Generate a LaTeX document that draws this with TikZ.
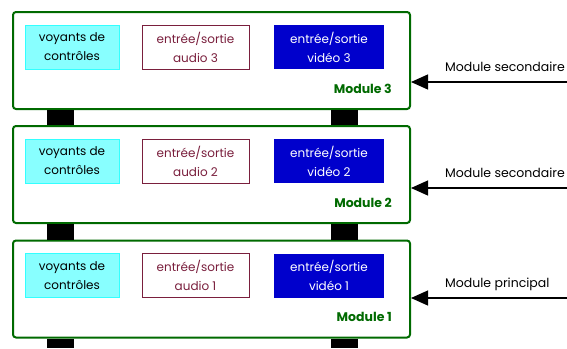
\documentclass[tikz,border=0pt]{standalone}
\usepackage{fontspec}
\setmainfont{Poppins}
\usepackage{tikz}
\usetikzlibrary{arrows.meta,positioning,calc}

\definecolor{modgreen}{HTML}{006A00}
\definecolor{lightcyan}{HTML}{88FFFF}
\definecolor{cyanline}{HTML}{33FFFF}
\definecolor{audiored}{HTML}{7A1F3D}
\definecolor{videoblue}{HTML}{0000CC}

\tikzset{
  module/.style={draw=modgreen,line width=2pt,rounded corners=3pt,fill=white,
    minimum width=397pt,minimum height=97pt,inner sep=0pt},
  voyants/.style={draw=cyanline,fill=lightcyan,minimum width=94pt,minimum height=44pt,
    align=center,inner sep=0pt,font=\fontsize{12}{19}\selectfont},
  audio/.style={draw=audiored,line width=0.8pt,text=audiored,minimum width=107pt,minimum height=44pt,
    align=center,inner sep=0pt,font=\fontsize{12}{19}\selectfont},
  video/.style={fill=videoblue,text=white,minimum width=110pt,minimum height=44pt,
    align=center,inner sep=0pt,font=\fontsize{12}{19}\selectfont},
  modlabel/.style={text=modgreen,font=\bfseries\fontsize{12.5}{14}\selectfont,anchor=east,inner sep=0pt},
  bar/.style={line width=27pt,black},
  feed/.style={line width=1.2pt,-{Triangle[length=17pt,width=15pt]}},
  feedlabel/.style={anchor=base west,font=\fontsize{12.5}{14}\selectfont,inner sep=0pt}
}

\begin{document}
\begin{tikzpicture}[x=1pt,y=-1pt]
\useasboundingbox (0,0) rectangle (567,348);

% modules, top to bottom
\foreach \i/\y/\a/\t in {3/60.5/82/Module secondaire,2/174.5/188/Module secondaire,1/289/298/Module principal}{
  \node[module] (m\i) at (211.5,\y) {};
  \node[voyants] (v\i) at (72,\y-13.5) {voyants de\\contrôles};
  \node[audio] (a\i) at (195.5,\y-13.5) {entrée/sortie\\audio \i};
  \node[video] (d\i) at (329,\y-13.5) {entrée/sortie\\vidéo \i};
  \node[modlabel] (l\i) at (392,\y+28) {Module \i};
  % incoming link
  \coordinate (s\i) at (567,\a);
  \draw[feed] (s\i) -- (m\i.east |- s\i);
  \node[feedlabel] (t\i) at (445,\a-11) {\t};
}

% stacking bars
\coordinate (bot) at (0,348);
\foreach \x in {48.5,332.5}{
  \draw[bar] ([xshift=\x pt]m3.south west) -- ([xshift=\x pt]m2.north west);
  \draw[bar] ([xshift=\x pt]m2.south west) -- ([xshift=\x pt]m1.north west);
  \draw[bar] ([xshift=\x pt]m1.south west) -- ([xshift=\x pt]m1.south west |- bot);
}
\end{tikzpicture}
\end{document}
